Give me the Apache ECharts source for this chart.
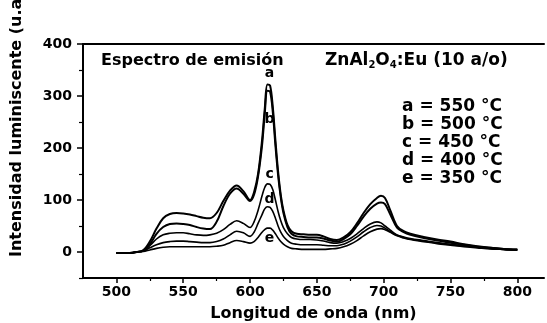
<!DOCTYPE html>
<html>
<head>
<meta charset="utf-8">
<script src="https://cdn.jsdelivr.net/npm/echarts@6/dist/echarts.min.js"></script>
<style>html,body{margin:0;padding:0;background:#fff;}#c{width:547px;height:323px;}</style>
</head>
<body>
<div id="c"></div>
<script>
// ---- data ----
const wavelengths = [500,505,510,515,520,525,530,535,540,545,550,555,560,565,570,575,580,585,590,595,600,603,606,609,611,613,615,617,619,621,623,625,628,631,635,640,645,650,655,660,665,670,675,680,685,690,695,698,701,705,710,715,720,730,740,750,760,770,780,790,800];
const seriesA = [-2,-2,-2,0,3,20,45,65,73,75,74,72,69,66,65,75,98,118,128,117,100,115,150,215,275,322,320,280,215,155,110,80,52,40,35,34,33,33,30,25,23,28,38,55,75,92,104,108,104,80,50,40,35,29,24,20,15,11,8,6,5];
const seriesB = [-2,-2,-2,0,3,15,35,48,54,55,54,52,48,45,44,58,88,112,122,112,98,110,145,205,265,310,308,270,205,148,105,75,48,35,30,29,28,28,26,22,20,25,34,50,68,83,93,95,92,72,47,38,33,27,22,18,14,10,8,6,5];
const seriesC = [-2,-2,-2,0,2,12,25,33,36,37,37,35,33,32,33,36,43,53,60,55,47,58,80,108,124,131,130,120,100,78,60,47,35,28,25,24,24,23,21,18,17,20,26,35,45,54,58,56,50,42,33,29,26,22,18,15,12,9,7,5,4];
const seriesD = [-2,-2,-2,0,2,8,14,18,20,21,21,20,19,18,18,20,25,33,40,37,30,38,55,72,83,87,86,78,65,50,38,30,22,17,15,14,14,14,13,12,12,15,21,29,39,47,51,50,46,39,32,28,25,21,17,14,11,9,7,5,4];
const seriesE = [-2,-2,-2,0,1,4,7,9,10,10,10,10,10,10,10,11,13,18,22,20,17,20,28,38,43,46,46,42,35,27,20,15,10,7,6,5,5,5,5,6,7,10,15,22,31,39,44,45,43,38,31,27,24,20,16,13,10,8,6,5,4];
const seriesNames = ['a','b','c','d','e'];
const peakLabelX = [615,615,615,615,615];
const peakLabelY = [343,254,149,101,26];
const legendLines = ['a = 550 °C','b = 500 °C','c = 450 °C','d = 400 °C','e = 350 °C'];
const xMajorTicks = [500,550,600,650,700,750,800];
const xMinorTicks = [525,575,625,675,725,775];
const yMajorTicks = [0,100,200,300,400];
const yMinorTicks = [-50,50,150,250,350];
const xTitle = 'Longitud de onda (nm)';
const yTitle = 'Intensidad luminiscente (u.a.)';

const FONT = 'DejaVu Sans';
const chart = echarts.init(document.getElementById('c'), null, {renderer:'canvas'});
const all = [seriesA, seriesB, seriesC, seriesD, seriesE];
const lineSeries = all.map((vals, i) => ({
  name: seriesNames[i],
  type: 'line',
  xAxisIndex: 0, yAxisIndex: 0,
  data: wavelengths.map((w, k) => [w, vals[k]]),
  showSymbol: false,
  smooth: 0.35,
  lineStyle: {color: '#000', width: i < 2 ? 2 : 1.6},
  z: 3
}));
const peakSeries = {
  type: 'scatter', xAxisIndex: 0, yAxisIndex: 0,
  data: peakLabelX.map((x, i) => [x, peakLabelY[i], seriesNames[i]]),
  symbolSize: 1, itemStyle: {color: 'rgba(0,0,0,0)'},
  label: {show: true, position: [0, 0], align: 'center', verticalAlign: 'middle',
          formatter: p => p.value[2], color: '#000', opacity: 1, textBorderWidth: 0,
          fontFamily: FONT, fontSize: 14, fontWeight: 'bold'},
  emphasis: {disabled: true},
  z: 4, silent: true
};
const baseAxisText = {color: '#000', fontFamily: FONT, fontSize: 14, fontWeight: 'bold'};
const option = {
  backgroundColor: '#fff',
  animation: false,
  grid: {left: 83, right: 3, top: 44, bottom: 45, outerBoundsMode: 'none'},
  xAxis: [
    {type: 'value', min: 475, max: 820, position: 'bottom',
     axisLine: {show: true, onZero: false, lineStyle: {color: '#000', width: 2}},
     axisTick: {show: true, length: 5, customValues: xMajorTicks, lineStyle: {color: '#000', width: 1.5}},
     axisLabel: Object.assign({customValues: xMajorTicks, margin: 7}, baseAxisText),
     splitLine: {show: false},
     name: xTitle, nameLocation: 'middle', nameGap: 28,
     nameTextStyle: {color: '#000', fontFamily: FONT, fontSize: 16, fontWeight: 'bold'}},
    {type: 'value', min: 475, max: 820, position: 'bottom', offset: 0,
     axisLine: {show: false, onZero: false},
     axisTick: {show: true, length: 3, customValues: xMinorTicks, lineStyle: {color: '#000', width: 1.2}},
     axisLabel: {show: false}, splitLine: {show: false}},
    {type: 'value', min: 475, max: 820, position: 'top', offset: 0,
     axisLine: {show: true, onZero: false, lineStyle: {color: '#000', width: 2}},
     axisTick: {show: false}, axisLabel: {show: false}, splitLine: {show: false}}
  ],
  yAxis: [
    {type: 'value', min: -50, max: 400, position: 'left',
     axisLine: {show: true, onZero: false, lineStyle: {color: '#000', width: 2}},
     axisTick: {show: true, length: 6, customValues: yMajorTicks, lineStyle: {color: '#000', width: 1.5}},
     axisLabel: Object.assign({customValues: yMajorTicks, margin: 11}, baseAxisText),
     splitLine: {show: false}},
    {type: 'value', min: -50, max: 400, position: 'left', offset: 0,
     axisLine: {show: false, onZero: false},
     axisTick: {show: true, length: 4, customValues: yMinorTicks, lineStyle: {color: '#000', width: 1.2}},
     axisLabel: {show: false}, splitLine: {show: false}}
  ],
  series: lineSeries.concat([peakSeries]),
  graphic: [
    {type: 'text', x: 17, y: 257, rotation: Math.PI / 2,
     style: {text: yTitle, fill: '#000', font: 'bold 16px "' + FONT + '"', textAlign: 'left', textVerticalAlign: 'middle'}},
    {type: 'text', x: 101, y: 61,
     style: {text: 'Espectro de emisión', fill: '#000', font: 'bold 16px "' + FONT + '"', textAlign: 'left', textVerticalAlign: 'middle'}},
    {type: 'text', x: 325, y: 61,
     style: {text: 'ZnAl{s|2}O{s|4}:Eu (10 a/o)', fill: '#000', fontFamily: FONT, fontSize: 17, fontWeight: 'bold', textAlign: 'left', textVerticalAlign: 'middle',
       rich: {s: {fontFamily: FONT, fontSize: 10, fontWeight: 'bold', padding: [8, 0, 0, 0], fill: '#000'}}}}
  ].concat(legendLines.map((t, i) => ({
    type: 'text', x: 402, y: 107 + i * 18,
    style: {text: t, fill: '#000', font: 'bold 17px "' + FONT + '"', textAlign: 'left', textVerticalAlign: 'middle'}
  })))
};
chart.setOption(option);
</script>
</body>
</html>
